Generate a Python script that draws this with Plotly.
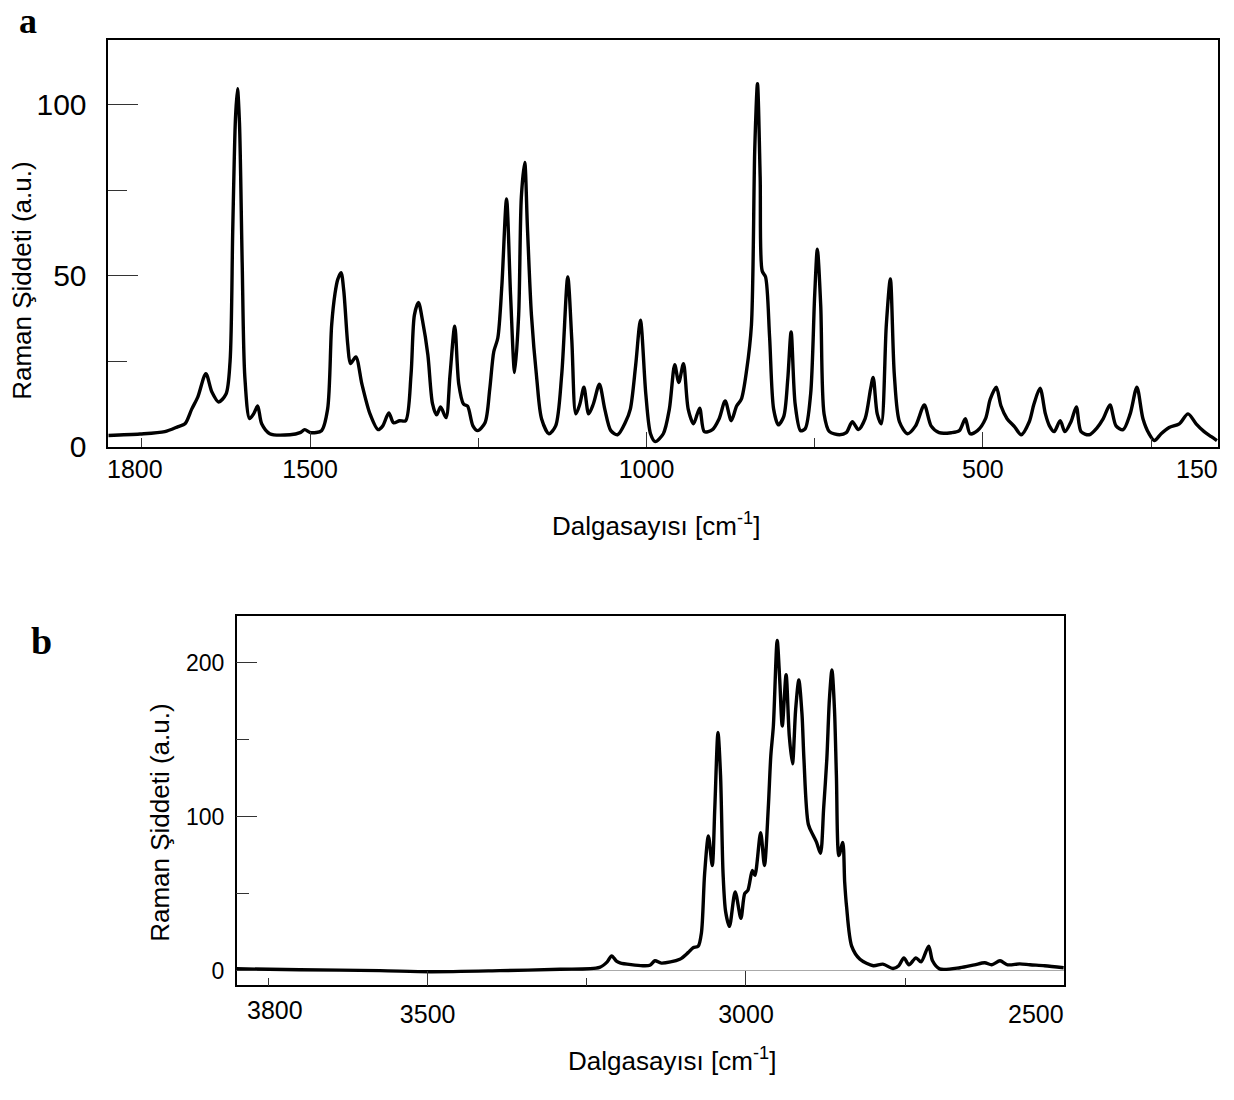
import plotly.graph_objects as go

# ---------------- Panel a data (wavenumber cm-1, intensity a.u.) ----------------
wn_a = [1800, 1753, 1716, 1696, 1686, 1676, 1667, 1655, 1646, 1636, 1625, 1619, 1615, 1611, 1608,
        1605, 1601, 1597, 1590, 1584, 1578, 1572, 1560, 1530, 1515, 1508, 1499, 1483, 1474, 1468,
        1463, 1459, 1454, 1450, 1444, 1440, 1432, 1423, 1411, 1399, 1392, 1383, 1376, 1367, 1358,
        1350, 1345, 1339, 1333, 1325, 1318, 1312, 1306, 1298, 1292, 1285, 1279, 1272, 1266, 1258,
        1251, 1240, 1233, 1227, 1221, 1215, 1208, 1202, 1196, 1190, 1186, 1181, 1177, 1171, 1163,
        1156, 1145, 1135, 1126, 1117, 1111, 1105, 1099, 1093, 1086, 1079, 1070, 1062, 1053, 1043,
        1031, 1024, 1016, 1009, 1001, 994, 987, 975, 966, 958, 952, 945, 938, 930, 921,
        914, 902, 892, 883, 874, 866, 859, 851, 844, 839, 835, 831, 828, 823, 817,
        811, 804, 796, 790, 785, 779, 771, 764, 756, 750, 746, 741, 736, 728, 713,
        703, 694, 685, 675, 667, 663, 657, 651, 643.5, 637.5, 631.6, 624, 612, 600, 587,
        577, 565, 547, 535, 526, 519, 508, 496, 489, 480, 473, 464, 453, 443, 431,
        424, 415, 407, 401, 394, 385, 378, 369, 361, 354, 342, 330, 321, 311, 302,
        291.5, 281, 271, 262, 253, 245, 235, 223, 208, 195, 183, 171, 161, 152]
int_a = [3.3, 3.7, 4.4, 5.9, 6.7, 11.0, 14.5, 21.4, 16.0, 13.1, 15.4, 24.9, 63.6, 96.0, 104.8,
         94.7, 54.0, 20.3, 8.2, 9.6, 11.9, 6.7, 3.8, 3.5, 4.1, 5.0, 4.1, 4.7, 11.0, 35.6,
         44.8, 48.9, 50.9, 45.7, 29.8, 24.3, 26.3, 18.3, 9.6, 5.0, 6.1, 9.9, 7.0, 7.6, 7.6,
         21.1, 38.5, 42.2, 37.0, 26.9, 12.5, 9.3, 11.6, 8.5, 21.1, 35.3, 18.3, 12.5, 11.9, 6.1,
         4.7, 7.0, 16.8, 27.8, 31.8, 47.1, 72.5, 44.2, 21.7, 38.5, 73.1, 83.2, 64.3, 38.5, 19.7,
         8.2, 3.8, 6.1, 21.1, 49.7, 31.2, 9.6, 12.5, 17.4, 9.6, 12.5, 18.3, 11.0, 4.7, 3.5,
         7.3, 11.0, 24.0, 37.0, 15.4, 3.8, 1.5, 3.8, 11.0, 24.0, 18.8, 24.3, 11.0, 6.7, 11.3,
         4.4, 5.0, 8.2, 13.4, 7.6, 11.9, 13.9, 22.6, 35.6, 87.5, 106.2, 78.8, 51.4, 49.7, 32.1,
         11.0, 6.4, 8.8, 19.7, 33.6, 12.5, 4.7, 5.3, 15.4, 44.2, 57.8, 41.3, 9.6, 4.4, 3.5,
         4.1, 7.3, 5.0, 8.2, 16.8, 20.3, 9.6, 6.7, 35.6, 49.1, 21.1, 7.3, 3.8, 6.1, 12.2,
         6.1, 4.1, 4.1, 4.7, 8.2, 3.8, 4.7, 8.2, 13.9, 17.4, 11.9, 8.2, 5.9, 3.5, 7.3,
         12.5, 17.1, 9.6, 6.1, 4.4, 7.6, 4.4, 7.3, 11.6, 4.4, 3.5, 5.6, 8.2, 12.2, 6.1,
         5.0, 9.6, 17.4, 8.2, 3.8, 1.8, 3.8, 5.6, 6.7, 9.6, 6.7, 4.4, 3.0, 1.8]

# ---------------- Panel b data ----------------
wn_b = [3800, 3701, 3575, 3496, 3387, 3292, 3230, 3218, 3211, 3204, 3198, 3162, 3151, 3143, 3133,
        3104, 3091, 3083, 3075, 3070, 3065, 3059, 3053, 3049, 3044, 3040, 3036, 3032, 3026, 3017,
        3008, 3002, 2997, 2990, 2986, 2977, 2971, 2965, 2961, 2957, 2951, 2947, 2943, 2937, 2932,
        2927, 2922, 2917, 2912, 2909, 2902, 2894, 2889, 2883, 2878, 2873, 2869, 2865, 2861, 2858,
        2854, 2848, 2845, 2842, 2834, 2821, 2800, 2785, 2769, 2760, 2752, 2744, 2733, 2725, 2713,
        2707, 2696, 2664, 2641, 2625, 2614, 2601, 2589, 2570, 2554, 2531, 2501]
int_b = [1.3, 0.7, 0.1, -0.6, 0.1, 1.0, 2.2, 5.8, 9.7, 6.5, 5.2, 3.3, 3.6, 6.5, 5.0,
         7.5, 11.8, 15.0, 16.0, 24.6, 62.9, 87.5, 68.3, 105.6, 154.6, 126.9, 62.9, 38.4, 28.8, 51.2,
         34.1, 50.1, 52.3, 65.1, 61.9, 89.6, 68.3, 105.6, 139.6, 158.8, 214.3, 188.7, 158.8, 192.0, 152.4,
         134.3, 169.5, 188.6, 166.3, 137.5, 94.9, 87.5, 83.2, 76.2, 105.6, 137.5, 175.9, 195.1, 169.5, 126.9,
         74.7, 83.2, 57.6, 41.6, 16.0, 7.5, 3.3, 4.3, 1.5, 3.3, 8.4, 3.9, 8.4, 5.8, 16.0,
         6.5, 1.3, 2.0, 3.9, 5.2, 3.9, 6.5, 3.9, 4.5, 3.9, 3.3, 2.0]

# ---------------- Tick definitions ----------------
xa_major = [1500, 1000, 500]
xa_minor = [1750, 1250, 750, 250]
ya_major = [0, 50, 100]
ya_minor = [25, 75]
xb_major = [3500, 3000]
xb_minor = [3750, 3250, 2750]
yb_major = [0, 100, 200]
yb_minor = [50, 150]
edge_a = ["1800", "150"]
edge_b = ["3800", "2500"]

FONT = "Liberation Sans, Arial, Helvetica, sans-serif"
SERIF = "Liberation Serif, Times New Roman, serif"
W, H = 1234, 1100

fig = go.Figure()
fig.add_trace(go.Scatter(x=wn_a, y=int_a, mode="lines", xaxis="x", yaxis="y",
                         line=dict(color="black", width=3.4, shape="spline", smoothing=0.8),
                         showlegend=False, hoverinfo="skip"))
fig.add_trace(go.Scatter(x=wn_b, y=int_b, mode="lines", xaxis="x2", yaxis="y2",
                         line=dict(color="black", width=3.4, shape="spline", smoothing=0.8),
                         showlegend=False, hoverinfo="skip"))

def px_x(p):
    return p / W

def px_y(p):
    return 1 - p / H

axis_common = dict(showline=True, mirror=True, linecolor="black", linewidth=1.5,
                   showgrid=False, ticks="inside", tickcolor="#333", tickwidth=1)

fig.update_layout(
    width=W, height=H, margin=dict(l=0, r=0, t=0, b=0),
    paper_bgcolor="white", plot_bgcolor="white",
    font=dict(family=FONT, color="black"),
    xaxis=dict(axis_common, domain=[px_x(108.3), px_x(1218.3)], anchor="y",
               range=[1800, 150], tickmode="array", tickvals=xa_major,
               ticktext=[str(v) for v in xa_major], ticklen=15, zeroline=False,
               minor=dict(tickmode="array", tickvals=xa_minor, ticks="inside", ticklen=9,
                          tickcolor="#333", tickwidth=1),
               tickfont=dict(size=25, family=FONT, color="black"), ticklabelstandoff=0),
    yaxis=dict(axis_common, domain=[px_y(453.3), px_y(41)], anchor="x",
               range=[0, 118.9], tickmode="array", tickvals=ya_major,
               ticktext=[str(v) for v in ya_major], ticklen=30, zeroline=False,
               minor=dict(tickmode="array", tickvals=ya_minor, ticks="inside", ticklen=19,
                          tickcolor="#333", tickwidth=1),
               tickfont=dict(size=30, family=FONT, color="black"), ticklabelstandoff=14),
    xaxis2=dict(axis_common, domain=[px_x(236.7), px_x(1064.3)], anchor="y2",
                range=[3800, 2500], tickmode="array", tickvals=xb_major,
                ticktext=[str(v) for v in xb_major], ticklen=15, zeroline=False,
                minor=dict(tickmode="array", tickvals=xb_minor, ticks="inside", ticklen=8,
                           tickcolor="#333", tickwidth=1),
                tickfont=dict(size=25, family=FONT, color="black"), ticklabelstandoff=6),
    yaxis2=dict(axis_common, domain=[px_y(1000), px_y(625)], anchor="x2",
                range=[-9.5, 230.2], tickmode="array", tickvals=yb_major,
                ticktext=[str(v) for v in yb_major], ticklen=21,
                zeroline=True, zerolinecolor="#aaaaaa", zerolinewidth=1,
                minor=dict(tickmode="array", tickvals=yb_minor, ticks="inside", ticklen=13,
                           tickcolor="#333", tickwidth=1),
                tickfont=dict(size=23, family=FONT, color="black"), ticklabelstandoff=6),
)

ann = []
# panel letters
ann.append(dict(text="<b>a</b>", x=px_x(28), y=px_y(21), xref="paper", yref="paper",
                xanchor="center", yanchor="middle", showarrow=False,
                font=dict(family=SERIF, size=36, color="black")))
ann.append(dict(text="<b>b</b>", x=px_x(41), y=px_y(650), xref="paper", yref="paper",
                xanchor="center", yanchor="middle", showarrow=False,
                font=dict(family=SERIF, size=38, color="black")))
# axis titles
title_x = "Dalgasayısı [cm<sup>-1</sup>]"
title_y = "Raman Şiddeti (a.u.)"
ann.append(dict(text=title_y, x=px_x(22), y=px_y(285), xref="paper", yref="paper",
                textangle=-90, xanchor="center", yanchor="middle", showarrow=False,
                font=dict(size=26, family=FONT, color="black")))
ann.append(dict(text=title_x, x=px_x(656), y=px_y(532), xref="paper", yref="paper",
                xanchor="center", yanchor="middle", showarrow=False,
                font=dict(size=26, family=FONT, color="black")))
ann.append(dict(text=title_y, x=px_x(160), y=px_y(835), xref="paper", yref="paper",
                textangle=-90, xanchor="center", yanchor="middle", showarrow=False,
                font=dict(size=26, family=FONT, color="black")))
ann.append(dict(text=title_x, x=px_x(672), y=px_y(1075), xref="paper", yref="paper",
                xanchor="center", yanchor="middle", showarrow=False,
                font=dict(size=26, family=FONT, color="black")))
# edge tick labels
ann.append(dict(text=edge_a[0], x=float(edge_a[0]), xref="x", y=px_y(476), yref="paper",
                xanchor="left", yanchor="middle", xshift=-3, showarrow=False,
                font=dict(size=25, family=FONT, color="black")))
ann.append(dict(text=edge_a[1], x=float(edge_a[1]), xref="x", y=px_y(476), yref="paper",
                xanchor="right", yanchor="middle", xshift=2, showarrow=False,
                font=dict(size=25, family=FONT, color="black")))
ann.append(dict(text=edge_b[0], x=float(edge_b[0]), xref="x2", y=px_y(1025), yref="paper",
                xanchor="left", yanchor="middle", xshift=8, showarrow=False,
                font=dict(size=25, family=FONT, color="black")))
ann.append(dict(text=edge_b[1], x=float(edge_b[1]), xref="x2", y=px_y(1029), yref="paper",
                xanchor="right", yanchor="middle", xshift=2, showarrow=False,
                font=dict(size=25, family=FONT, color="black")))
fig.update_layout(annotations=ann)

fig.write_html("out.html")
